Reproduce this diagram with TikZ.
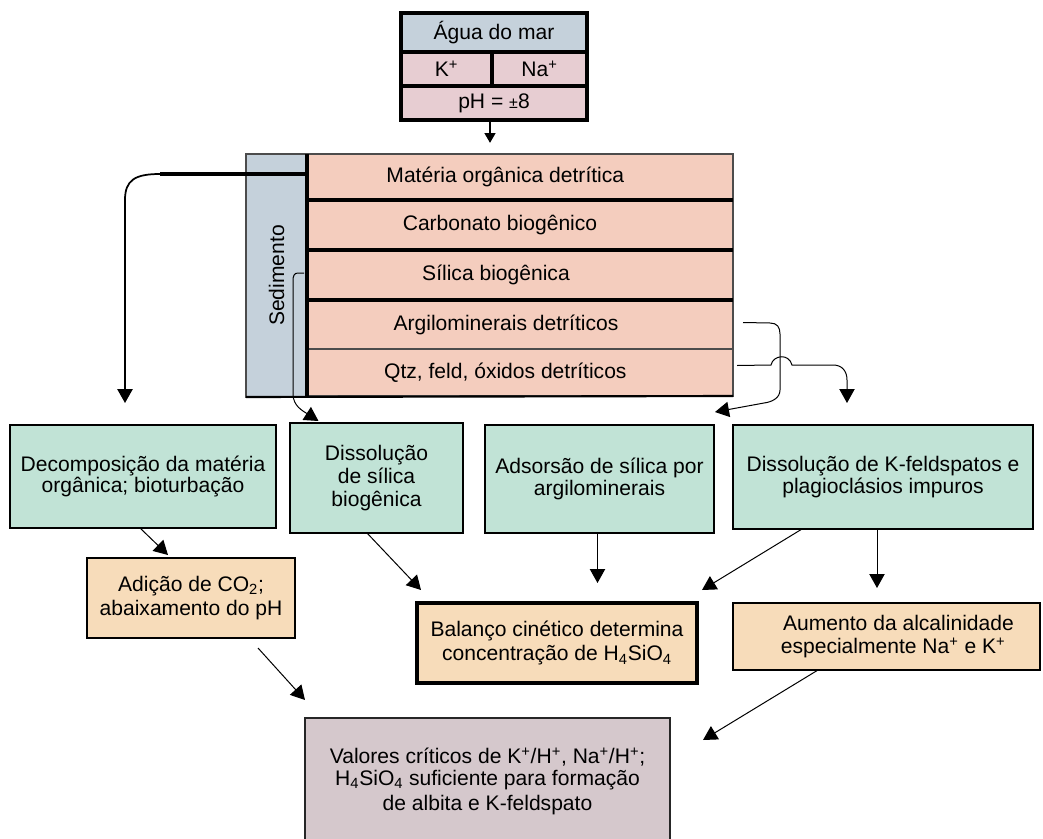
\documentclass[tikz,border=0pt]{standalone}
\usepackage{fontspec}
\setmainfont{Liberation Sans}
\usepackage{xcolor}
\usetikzlibrary{arrows.meta}

\definecolor{seablue}{RGB}{197,209,219}
\definecolor{ionpink}{RGB}{231,205,210}
\definecolor{sedsalmon}{RGB}{244,205,190}
\definecolor{procgreen}{RGB}{193,227,214}
\definecolor{effpeach}{RGB}{247,220,186}
\definecolor{resmauve}{RGB}{213,200,204}

\tikzset{
  boxsize/.style 2 args={minimum width=#1*0.75pt,minimum height=#2*0.75pt},
  seabox/.style={draw,line width=2.4pt,fill=seablue,inner sep=0pt,outer sep=0pt},
  ionbox/.style={seabox,fill=ionpink},
  sedrow/.style={draw=black!70,line width=1.1pt,fill=sedsalmon,inner sep=0pt,outer sep=0pt},
  sedcolumn/.style={draw=black!70,line width=1.1pt,fill=seablue,inner sep=0pt,outer sep=0pt},
  procbox/.style={draw,line width=2pt,fill=procgreen,inner sep=0pt,outer sep=0pt,align=center},
  effbox/.style={draw,line width=1.4pt,fill=effpeach,inner sep=0pt,outer sep=0pt,align=center},
  resbox/.style={draw=black!85,line width=1.3pt,fill=resmauve,inner sep=0pt,outer sep=0pt,align=center},
  sepline/.style={line width=2.4pt},
  arr/.style={-{Triangle[length=10.5pt,width=11.5pt]},line width=0.75pt}
}

\begin{document}
\begin{tikzpicture}[x=0.75pt,y=0.75pt,yscale=-1,xscale=1,
  every node/.style={font=\fontsize{15.8pt}{16.4pt}\selectfont}]
\useasboundingbox (0,0) rectangle (1043,839);
\clip (0,0) rectangle (1043,839);

% sea water
\node[seabox,boxsize={186}{39}] (aguaHead) at (494,32.5) {Água do mar};
\node[ionbox,boxsize={91}{34}] (kIon) at (446.5,69) {K\textsuperscript{+}};
\node[ionbox,boxsize={95}{34}] (naIon) at (539.5,69) {Na\textsuperscript{+}};
\node[ionbox,boxsize={186}{34}] (phRow) at (494,103) {pH = {\fontsize{12pt}{12pt}\selectfont ±}8};

% sediment column and layers
\node[sedcolumn,rotate=90,boxsize={243}{61}] (sedCol) at (276.5,275.5) {Sedimento};
\node[sedrow,boxsize={426}{46}] (matOrg) at (520,177) {Matéria orgânica detrítica\hspace*{22pt}};
\node[sedrow,boxsize={426}{50}] (carbBio) at (520,225) {Carbonato biogênico\hspace*{30pt}};
\node[sedrow,boxsize={426}{50}] (silBio) at (520,275) {Sílica biogênica\hspace*{36pt}};
\node[sedrow,boxsize={426}{49}] (argDet) at (520,324.5) {Argilominerais detríticos\hspace*{21pt}};
\node[sedrow,boxsize={426}{47}] (qtzDet) at (520,372.5) {Qtz, feld, óxidos detríticos\hspace*{22pt}};
\draw[sepline] (matOrg.south west) -- (matOrg.south east);
\draw[sepline] (carbBio.south west) -- (carbBio.south east);
\draw[sepline] (silBio.south west) -- (silBio.south east);
\draw[sepline] (matOrg.north west) -- (qtzDet.south west);
\draw[line width=1.6pt] (sedCol.north west) -- (qtzDet.south east);

% processes
\node[procbox,boxsize={266}{103}] (decomp) at (143,476.5) {Decomposição da matéria\\orgânica; bioturbação};
\node[procbox,boxsize={173}{110}] (dissSil) at (376.5,478) {Dissolução\\[1pt]de sílica\\[1pt]biogênica};
\node[procbox,boxsize={229}{108}] (adsSil) at (599.5,479) {Adsorsão de sílica por\\argilominerais};
\node[procbox,boxsize={300}{104}] (dissFeld) at (883,477) {Dissolução de K-feldspatos e\\plagioclásios impuros};

% effects
\node[effbox,boxsize={208}{80}] (addCO2) at (191,598) {Adição de CO\textsubscript{2};\\[2pt]abaixamento do pH};
\node[effbox,line width=2.4pt,boxsize={280}{80}] (balanco) at (557,643) {Balanço cinético determina\\[2pt]concentração de H\textsubscript{4}SiO\textsubscript{4}};
\node[effbox,line width=1.8pt,boxsize={307}{67}] (alcal) at (886.5,636.5) {\hspace*{18pt}Aumento da alcalinidade\\[1pt]\hspace*{10pt}especialmente Na\textsuperscript{+} e K\textsuperscript{+}};

% result
\node[resbox,boxsize={365}{127}] (critico) at (487.5,781.5) {Valores críticos de K\textsuperscript{+}/H\textsuperscript{+}, Na\textsuperscript{+}/H\textsuperscript{+};\\H\textsubscript{4}SiO\textsubscript{4} suficiente para formação\\[3pt]de albita e K-feldspato};

% connectors
\draw[line width=2.2pt,-{Triangle[length=7.5pt,width=8pt]}] ([shift={(-4,0)}]phRow.south) -- ++(0,23);

\coordinate (orgBend) at (160,174);
\draw[line width=2.8pt] ([shift={(0,-3)}]matOrg.west) -- (orgBend);
\draw[arr,line width=1.3pt] (orgBend) .. controls (135,174) and (125,180) .. (125,200) -- ([shift={(-18,-22)}]decomp.north);

\draw[arr] ([shift={(-3,-2)}]silBio.west) -- (298,273) .. controls (294,273) and (293,276) .. (293,281) -- (293,394) .. controls (293,406) and (303,411) .. ([shift={(-58,-2)}]dissSil.north);

\draw[arr] ([shift={(10,-2)}]argDet.east) -- (770,323) .. controls (777,323) and (780,327) .. (780,334) -- (780,390) .. controls (780,398) and (772,402) .. (764,403) -- ([shift={(1,-13)}]adsSil.north east);

\draw[arr] ([shift={(4,-7)}]qtzDet.east) -- (771,365) .. controls (773,355) and (789,353) .. (792,365) -- (833,365) .. controls (842,365) and (847,371) .. (847,380) -- ([shift={(-36,-22)}]dissFeld.north);

\draw[arr] ([shift={(-3,0)}]decomp.south) -- ([shift={(-23,-3)}]addCO2.north);
\draw[arr] ([shift={(-9.5,0)}]dissSil.south) -- ([shift={(4,-13)}]balanco.north west);
\draw[arr] ([shift={(-2,0)}]adsSil.south) -- ++(0,50);
\draw[arr] ([shift={(-81,0)}]dissFeld.south) -- ([shift={(5,-13)}]balanco.north east);
\draw[arr] ([shift={(-6,0)}]dissFeld.south) -- ([shift={(-9.5,-15)}]alcal.north);
\draw[arr] ([shift={(-37,10)}]addCO2.south east) -- ([shift={(0,-18)}]critico.north west);
\draw[arr] ([shift={(85,0)}]alcal.south west) -- ([shift={(33,22)}]critico.north east);

\end{tikzpicture}
\end{document}
